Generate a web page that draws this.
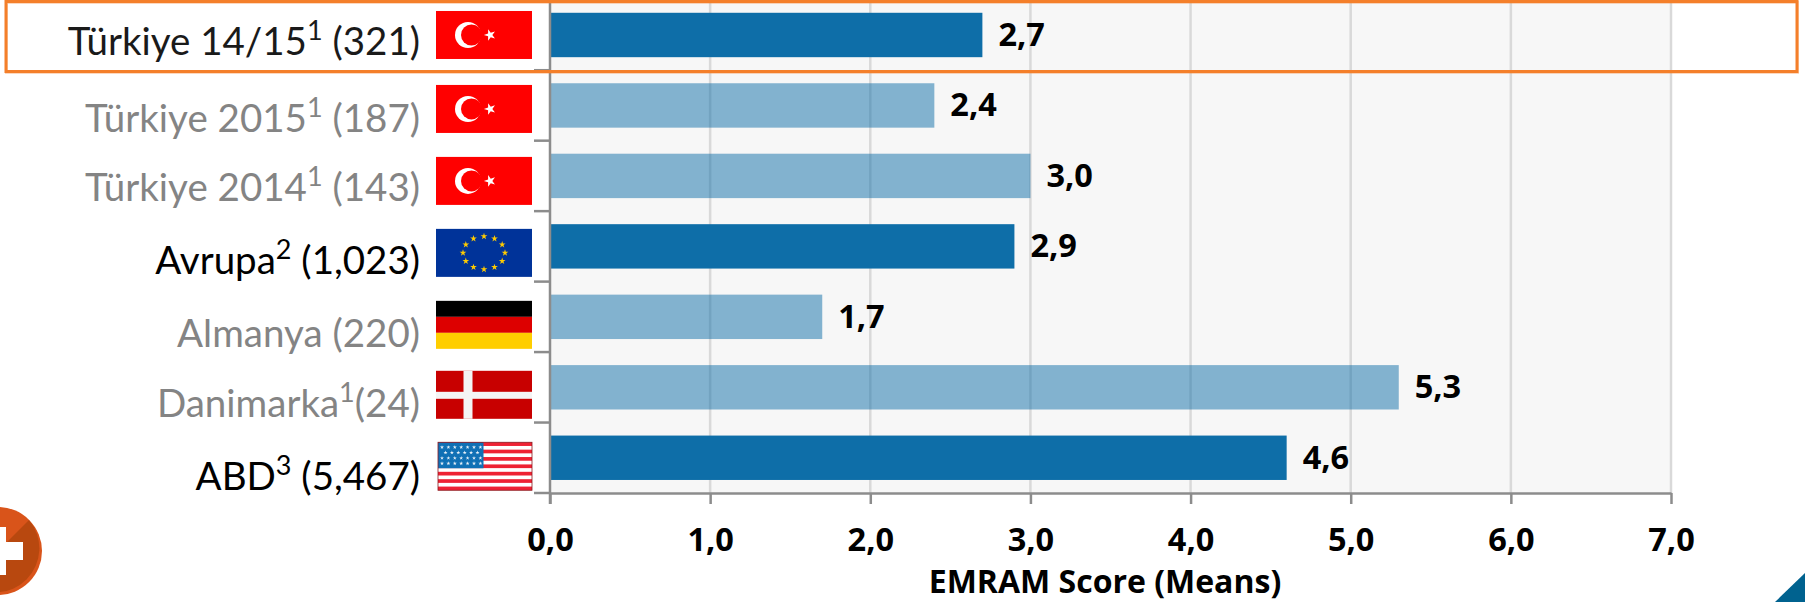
<!DOCTYPE html>
<html>
<head>
<meta charset="utf-8">
<script src="https://cdn.jsdelivr.net/npm/d3@7"></script>
<style>
  body { margin: 0; background: #fff; }
  svg { display: block; }
  .rowlabel { font-family: Lato, sans-serif; font-size: 38.5px; }
  .num { font-family: "Open Sans", sans-serif; font-weight: 700; font-size: 32.5px; fill: #000; }
</style>
</head>
<body>
<script>
const {select, scaleBand, scaleLinear, axisBottom, range, symbol, symbolStar} = d3;

const rows = ['tr1415', 'tr2015', 'tr2014', 'eu', 'de', 'dk', 'us'];
const labelHead = ['Türkiye 14/15', 'Türkiye 2015', 'Türkiye 2014', 'Avrupa', 'Almanya', 'Danimarka', 'ABD'];
const labelSup = ['1', '1', '1', '2', '', '1', '3'];
const labelTail = [' (321)', ' (187)', ' (143)', ' (1,023)', ' (220)', '(24)', ' (5,467)'];
const values = [2.7, 2.4, 3.0, 2.9, 1.7, 5.3, 4.6];
const muted = [false, true, true, false, true, true, false];
const flags = ['tr', 'tr', 'tr', 'eu', 'de', 'dk', 'us'];
const xTicks = [0, 1, 2, 3, 4, 5, 6, 7];

const width = 1805;
const height = 602;
const plotLeft = 550, plotRight = 1671, plotTop = -0.25, plotBottom = 493;

const comma = v => v.toFixed(1).replace('.', ',');

const svg = select('body').append('svg').attr('width', width).attr('height', height);

const x = scaleLinear().domain([0, 7]).range([plotLeft, plotRight]);
const y = scaleBand().domain(rows).range([plotTop, plotBottom]).paddingInner(0.37).paddingOuter(0.185);

// plot background and grid
svg.append('rect')
    .attr('x', plotLeft).attr('y', 0)
    .attr('width', plotRight - plotLeft).attr('height', plotBottom)
    .attr('fill', '#f7f7f7');

svg.selectAll('.grid')
    .data(xTicks.slice(1))
    .enter()
    .append('line')
    .attr('class', 'grid')
    .attr('x1', d => x(d)).attr('x2', d => x(d))
    .attr('y1', 0).attr('y2', plotBottom)
    .attr('stroke', '#d9d9d9')
    .attr('stroke-width', 2.5);

// bars
svg.selectAll('.bar')
    .data(rows)
    .enter()
    .append('rect')
    .attr('class', 'bar')
    .attr('x', x(0))
    .attr('y', d => y(d))
    .attr('width', (d, i) => x(values[i]) - x(0))
    .attr('height', y.bandwidth())
    .attr('fill', '#0e6ea8')
    .attr('opacity', (d, i) => muted[i] ? 0.5 : 1);

// value labels
svg.selectAll('.val')
    .data(rows)
    .enter()
    .append('text')
    .attr('class', 'num')
    .attr('x', (d, i) => x(values[i]) + 16)
    .attr('y', d => y(d) + y.bandwidth() / 2 + 11)
    .text((d, i) => comma(values[i]));

// x axis
const xAxis = svg.append('g')
    .attr('transform', `translate(0,${plotBottom})`)
    .call(axisBottom(x).tickValues(xTicks).tickFormat(comma).tickSize(11).tickSizeOuter(0).tickPadding(26));
xAxis.select('.domain').attr('stroke', '#8c8c8c').attr('stroke-width', 2.5);
xAxis.selectAll('line').attr('stroke', '#8c8c8c').attr('stroke-width', 2.5);
xAxis.selectAll('text')
    .attr('class', 'num')
    .attr('dy', null)
    .attr('y', 58);

svg.append('text')
    .attr('class', 'num')
    .attr('x', 1105).attr('y', 593)
    .attr('text-anchor', 'middle')
    .style('font-size', '32px')
    .text('EMRAM Score (Means)');

// y axis, ticks sit between the categories
svg.append('line')
    .attr('x1', plotLeft).attr('x2', plotLeft)
    .attr('y1', 0).attr('y2', 504)
    .attr('stroke', '#8c8c8c').attr('stroke-width', 2.5);

svg.selectAll('.ytick')
    .data(rows)
    .enter()
    .append('line')
    .attr('class', 'ytick')
    .attr('x1', 534).attr('x2', plotLeft)
    .attr('y1', d => y(d) + y.bandwidth() + y.step() * 0.185)
    .attr('y2', d => y(d) + y.bandwidth() + y.step() * 0.185)
    .attr('stroke', '#8c8c8c').attr('stroke-width', 2.5);

// row labels
const labelNudge = [20, 27, 25.5, 28, 30, 29.5, 32];
const label = svg.selectAll('.rowlabel')
    .data(rows)
    .enter()
    .append('text')
    .attr('class', 'rowlabel')
    .attr('x', 420)
    .attr('y', (d, i) => y(d) + y.bandwidth() / 2 + labelNudge[i])
    .attr('text-anchor', 'end')
    .attr('fill', (d, i) => muted[i] ? '#848484' : (i === 0 ? '#1a1a1a' : '#000'));
label.append('tspan').text((d, i) => labelHead[i]);
label.append('tspan')
    .attr('dy', -15)
    .style('font-size', '27px')
    .text((d, i) => labelSup[i]);
label.append('tspan')
    .attr('dy', (d, i) => labelSup[i] ? 15 : 0)
    .text((d, i) => labelTail[i]);

// flags
const flagX = 436, flagW = 96, flagH = 48;
const flagNudge = [0, 3.5, 5, 6.5, 8, 7.5, 8.5];

function star(g, cx, cy, size, fill, turn = 0) {
    g.append('path')
        .attr('d', symbol(symbolStar, size)())
        .attr('transform', `translate(${cx},${cy}) rotate(${turn})`)
        .attr('fill', fill);
}

function flagBox(g, fill, yy = 0, hh = flagH, xx = 0, ww = flagW) {
    g.append('rect').attr('x', xx).attr('y', yy).attr('width', ww).attr('height', hh).attr('fill', fill);
}

const drawFlag = {
    tr(g) {
        flagBox(g, '#ff0000');
        g.append('circle').attr('cx', 32).attr('cy', flagH / 2).attr('r', 13).attr('fill', '#fff');
        g.append('circle').attr('cx', 35.5).attr('cy', flagH / 2).attr('r', 10.5).attr('fill', '#ff0000');
        star(g, 54, flagH / 2, 42, '#fff', -90);
    },
    eu(g) {
        flagBox(g, '#003399');
        range(12).forEach(k => {
            const a = k * Math.PI / 6;
            star(g, 48 + 21 * Math.sin(a), flagH / 2 - 16.5 * Math.cos(a), 14, '#ffcc00');
        });
    },
    de(g) {
        flagBox(g, '#000', 0, flagH / 3);
        flagBox(g, '#dd0000', flagH / 3, flagH / 3);
        flagBox(g, '#ffce00', 2 * flagH / 3, flagH / 3);
    },
    dk(g) {
        flagBox(g, '#c80000');
        flagBox(g, '#f4f4f4', 0, flagH, 27.5, 9);
        flagBox(g, '#f4f4f4', 21, 7);
    },
    us(g) {
        const w = flagW - 2;
        flagBox(g, '#fff', 0, flagH, 2, w);
        range(0, 13, 2).forEach(k => flagBox(g, '#ee2233', k * flagH / 13, flagH / 13, 2, w));
        flagBox(g, '#1070b5', 0, 26, 2, 45.5);
        range(4).forEach(r => {
            const n = r === 1 ? 6 : 7;
            range(n).forEach(c => {
                star(g, (r === 1 ? 9.5 : 6) + c * 6.4, 5 + r * 5.4, 5, '#e8f0f8');
            });
        });
        g.append('rect').attr('x', 2).attr('y', 0).attr('width', w).attr('height', flagH)
            .attr('fill', 'none').attr('stroke', '#8a1a20').attr('stroke-width', 0.8);
    }
};

svg.selectAll('.flag')
    .data(rows)
    .enter()
    .append('g')
    .attr('class', 'flag')
    .attr('transform', (d, i) => `translate(${flagX},${y(d) + y.bandwidth() / 2 - flagH / 2 + flagNudge[i]})`)
    .each(function (d, i) { drawFlag[flags[i]](select(this)); });

// highlight box round the first row
svg.append('rect')
    .attr('x', 6.5).attr('y', 2.5).attr('width', 1791).attr('height', 70)
    .attr('fill', 'none').attr('stroke', '#f47f2a').attr('stroke-width', 3).attr('opacity', 0.3);
svg.append('rect')
    .attr('x', 6).attr('y', 1.5).attr('width', 1791).attr('height', 70)
    .attr('fill', 'none').attr('stroke', '#f47f2a').attr('stroke-width', 3);

// slide decoration, bottom corners
const logo = svg.append('g').attr('transform', 'translate(-2,551)');
logo.append('circle').attr('r', 44).attr('fill', '#d9541a');
logo.append('path').attr('d', 'M-31,31 L31,-31 A44,44 0 0 1 -31,31 Z').attr('fill', '#b8480f');
logo.append('rect').attr('x', -20).attr('y', -24).attr('width', 28).attr('height', 48).attr('fill', '#fff');
logo.append('rect').attr('x', -20).attr('y', -9).attr('width', 45).attr('height', 18).attr('fill', '#fff');

svg.append('path').attr('d', 'M1775,602 L1805,573 L1805,602 Z').attr('fill', '#00628f');
</script>
</body>
</html>
